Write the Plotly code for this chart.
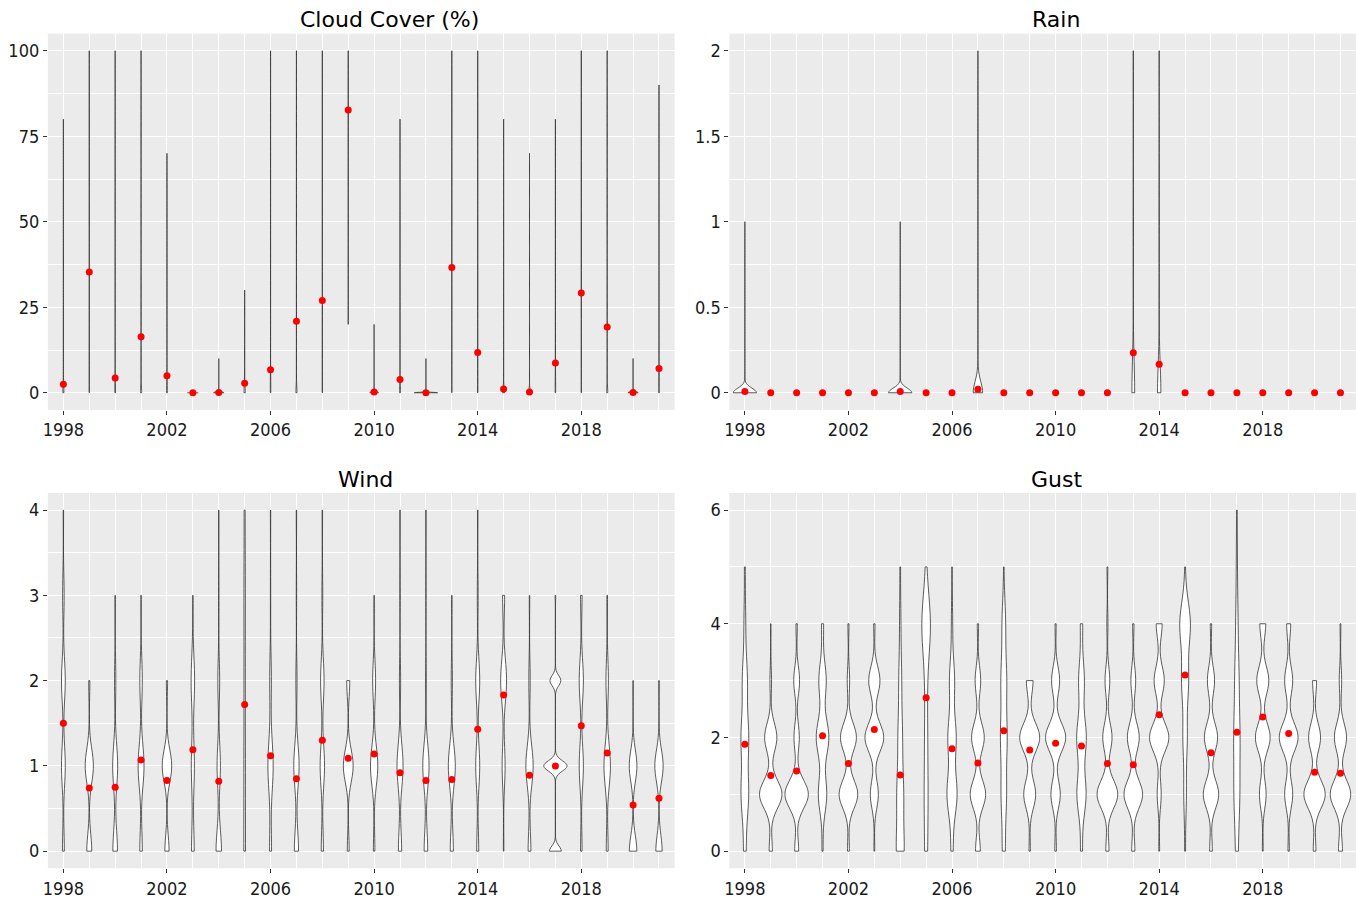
import numpy as np
import plotly.graph_objects as go

YEARS = list(range(1998, 2022))
X_TICKS = [1998, 2002, 2006, 2010, 2014, 2018]
TITLES = ["Cloud Cover (%)", "Rain", "Wind", "Gust"]

# ---- observation counts per year (count of each level) ----
CLOUD_LEVELS = [0, 10, 20, 30, 40, 50, 60, 70, 80, 90, 100]
CLOUD_COUNTS = [
    [418, 10, 6, 5, 3, 3, 1, 1, 3],
    [260, 10, 8, 6, 5, 5, 5, 5, 8, 8, 130],
    [405, 15, 8, 5, 3, 2, 2, 1, 1, 1, 7],
    [335, 20, 10, 8, 6, 5, 5, 6, 8, 10, 37],
    [380, 22, 14, 12, 10, 6, 4, 2],
    [450],
    [445, 5],
    [380, 35, 20, 15],
    [385, 20, 10, 6, 4, 4, 4, 4, 4, 3, 6],
    [320, 20, 10, 8, 6, 6, 6, 6, 8, 10, 50],
    [290, 20, 10, 8, 6, 6, 6, 6, 8, 10, 80],
    [0, 0, 8, 12, 15, 20, 25, 35, 60, 75, 200],
    [446, 3, 1],
    [400, 15, 10, 7, 5, 4, 3, 3, 3],
    [449, 1],
    [255, 10, 8, 6, 5, 5, 5, 5, 8, 8, 135],
    [360, 20, 10, 6, 5, 5, 4, 4, 5, 6, 25],
    [435, 8, 3, 1, 1, 0, 0, 1, 1],
    [447, 1, 1, 0, 0, 0, 0, 1],
    [365, 22, 12, 10, 9, 8, 7, 7, 10],
    [285, 15, 10, 8, 6, 6, 6, 6, 8, 10, 90],
    [320, 20, 10, 8, 6, 6, 6, 6, 8, 10, 50],
    [445, 5],
    [380, 20, 10, 8, 6, 5, 5, 5, 5, 6],
]
CLOUD_MEANS = [2.5, 35.3, 4.3, 16.4, 5.0, 0.0, 0.1, 2.8, 6.7, 20.9, 27.0, 82.7,
               0.2, 3.9, 0.0, 36.6, 11.8, 1.1, 0.2, 8.7, 29.2, 19.2, 0.1, 7.1]

RAIN_LEVELS = [0, 1, 2]
RAIN_COUNTS = [
    [149, 1], [150], [150], [150], [150], [150], [149, 1], [150], [150],
    [147, 2, 1], [150], [150], [150], [150], [150], [123, 17, 10],
    [130, 13, 7], [150], [150], [150], [150], [150], [150], [150],
]
RAIN_MEANS = [0.008, 0, 0, 0, 0, 0, 0.008, 0, 0, 0.021, 0, 0, 0, 0, 0, 0.234,
              0.166, 0, 0, 0, 0, 0, 0, 0]

WIND_LEVELS = [0, 1, 2, 3, 4]
WIND_COUNTS = [
    [25, 50, 50, 20, 5], [52, 86, 12], [61, 66, 17, 6], [33, 78, 33, 6],
    [42, 96, 12], [42, 48, 54, 6], [72, 44, 24, 5, 5], [38, 32, 28, 30, 22],
    [31, 83, 26, 5, 5], [55, 70, 15, 5, 5], [29, 58, 46, 11, 6], [19, 100, 31],
    [18, 90, 36, 6], [43, 80, 16, 6, 5], [47, 83, 10, 5, 5], [40, 89, 15, 6],
    [27, 53, 53, 11, 6], [6, 39, 78, 27], [35, 92, 17, 6], [38, 75, 35, 2],
    [20, 55, 55, 20], [25, 85, 32, 8], [72, 74, 4], [62, 82, 6],
]
WIND_MEANS = [1.50, 0.74, 0.75, 1.07, 0.83, 1.19, 0.82, 1.72, 1.12, 0.85, 1.30, 1.09,
              1.14, 0.92, 0.83, 0.84, 1.43, 1.83, 0.89, 1.00, 1.47, 1.15, 0.54, 0.62]

GUST_LEVELS = [0, 1, 2, 3, 4, 5, 6]
GUST_COUNTS = [
    [15, 45, 45, 30, 10, 5], [12, 84, 46, 6, 2], [15, 88, 20, 22, 5],
    [5, 40, 60, 35, 10], [7, 70, 60, 9, 4], [3, 30, 70, 42, 5],
    [50, 42, 28, 18, 8, 4], [20, 25, 20, 15, 65, 5], [12, 55, 45, 28, 7, 3],
    [18, 58, 48, 21, 5], [18, 33, 40, 35, 22, 2], [5, 45, 75, 25],
    [6, 35, 75, 30, 4], [10, 48, 50, 30, 12], [12, 78, 35, 18, 4, 3],
    [12, 70, 45, 18, 5], [3, 15, 72, 38, 22], [5, 15, 25, 40, 62, 3],
    [10, 58, 50, 27, 5], [18, 38, 40, 28, 15, 7, 4], [3, 25, 55, 45, 22],
    [5, 30, 70, 30, 15], [10, 80, 45, 15], [15, 77, 46, 9, 3],
]
GUST_MEANS = [1.88, 1.33, 1.41, 2.03, 1.54, 2.14, 1.34, 2.70, 1.80, 1.55, 2.12, 1.78,
              1.90, 1.85, 1.54, 1.52, 2.40, 3.10, 1.73, 2.09, 2.36, 2.07, 1.39, 1.37]

# kernel bandwidth read off the picture where the default rule does not fit
BW_OVERRIDE = {("Wind", 2017): 0.06}

PANELS = [
    ("Cloud Cover (%)", CLOUD_LEVELS, CLOUD_COUNTS, CLOUD_MEANS),
    ("Rain", RAIN_LEVELS, RAIN_COUNTS, RAIN_MEANS),
    ("Wind", WIND_LEVELS, WIND_COUNTS, WIND_MEANS),
    ("Gust", GUST_LEVELS, GUST_COUNTS, GUST_MEANS),
]


def expand(levels, counts):
    return np.repeat(np.array(levels[:len(counts)], float), counts)


def nrd0(x):
    hi = np.std(x, ddof=1)
    q75, q25 = np.percentile(x, [75, 25])
    lo = min(hi, (q75 - q25) / 1.34)
    if lo == 0:
        lo = hi or abs(x[0]) or 1.0
    return 0.9 * lo * len(x) ** -0.2


def peak_density(x, bw):
    vals, cnt = np.unique(x, return_counts=True)
    lo, hi = x.min(), x.max()
    grid = np.unique(np.concatenate([np.linspace(lo, hi, 512), vals]))
    d = (cnt[None, :] * np.exp(-0.5 * ((grid[:, None] - vals[None, :]) / bw) ** 2)).sum(1)
    d = d / (len(x) * bw * np.sqrt(2 * np.pi))
    return d.max()


LINE = "#333333"
fig = go.Figure()

for p, (name, levels, counts, means) in enumerate(PANELS):
    ax = "" if p == 0 else str(p + 1)
    groups = []
    for yr, c in zip(YEARS, counts):
        x = expand(levels, c)
        bw = BW_OVERRIDE.get((name, yr), nrd0(x))
        groups.append((yr, x, bw, peak_density(x, bw)))
    pmax = max(g[3] for g in groups)
    for yr, x, bw, pk in groups:
        w = 0.9 * pk / pmax
        if x.min() == x.max():
            fig.add_trace(go.Scatter(
                x=[yr - w / 2, yr + w / 2], y=[x[0], x[0]], mode="lines",
                line=dict(color=LINE, width=0.8), xaxis="x" + ax, yaxis="y" + ax,
                hoverinfo="skip", showlegend=False))
        else:
            fig.add_trace(go.Violin(
                y=x, x0=yr, width=w, bandwidth=bw, spanmode="hard",
                scalemode="width", points=False, box_visible=False,
                meanline_visible=False, fillcolor="white",
                line=dict(color=LINE, width=0.8), xaxis="x" + ax, yaxis="y" + ax,
                showlegend=False, hoverinfo="skip", name=str(yr)))
    fig.add_trace(go.Scatter(
        x=YEARS, y=means, mode="markers", marker=dict(color="red", size=7),
        xaxis="x" + ax, yaxis="y" + ax, showlegend=False, name="mean"))

W, H = 1356, 899
X_DOM = [[43 / W, 672 / W], [727 / W, 1.0]]
Y_DOM = [[1 - 414 / H, 1 - 34 / H], [1 - 877 / H, 1 - 498 / H]]
Y_SPEC = [
    dict(range=[-5, 105], dtick=25, minor=12.5),
    dict(range=[-0.1, 2.1], dtick=0.5, minor=0.25),
    dict(range=[-0.2, 4.2], dtick=1, minor=0.5),
    dict(range=[-0.3, 6.3], dtick=2, minor=1),
]
TICKFONT = dict(family="DejaVu Sans Condensed, Noto Sans, sans-serif", size=18, color="#1a1a1a")
layout = dict(
    width=W, height=H, margin=dict(l=0, r=0, t=0, b=0),
    paper_bgcolor="white", plot_bgcolor="#EBEBEB", violinmode="overlay",
    showlegend=False,
)
for p in range(4):
    ax = "" if p == 0 else str(p + 1)
    xd = X_DOM[p % 2]
    yd = Y_DOM[p // 2]
    ys = Y_SPEC[p]
    layout["xaxis" + ax] = dict(
        domain=xd, anchor="y" + ax, range=[1997.4, 2021.6], tickmode="array",
        tickvals=X_TICKS, ticks="outside", ticklen=4, tickwidth=1, tickcolor="#333333",
        showgrid=True, gridcolor="white", gridwidth=1.1, zeroline=False, showline=False,
        tickfont=TICKFONT,
        minor=dict(tickmode="array", tickvals=YEARS, showgrid=True, gridcolor="white",
                   gridwidth=1.1, ticks=""),
    )
    layout["yaxis" + ax] = dict(
        domain=yd, anchor="x" + ax, range=ys["range"], tick0=0, dtick=ys["dtick"],
        ticks="outside", ticklen=4, tickwidth=1, tickcolor="#333333",
        showgrid=True, gridcolor="white", gridwidth=1.1, zeroline=False, showline=False,
        tickfont=TICKFONT,
        minor=dict(tick0=0, dtick=ys["minor"], showgrid=True, gridcolor="white",
                   gridwidth=0.55, ticks=""),
    )

TITLE_POS = [(386, 20), (1055, 20), (362, 484), (1055, 484)]
layout["annotations"] = [
    dict(text=t, xref="paper", yref="paper", x=px / W, y=1 - py / H,
         xanchor="center", yanchor="middle", showarrow=False,
         font=dict(family="DejaVu Sans, sans-serif", size=22, color="black"))
    for t, (px, py) in zip(TITLES, TITLE_POS)
]
fig.update_layout(**layout)
fig.write_html("out.html")
